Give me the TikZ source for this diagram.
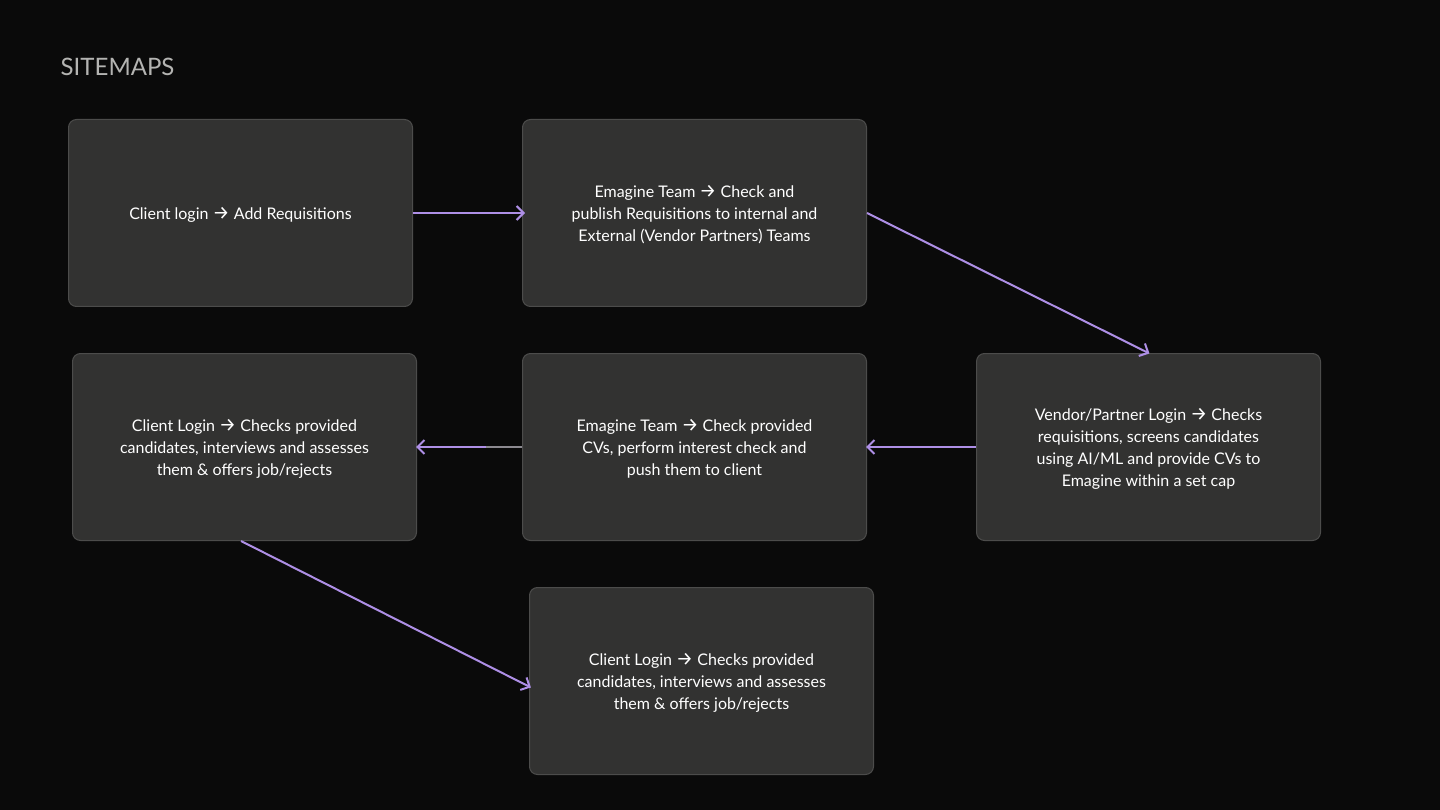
\documentclass[tikz,border=0pt]{standalone}
\usepackage{fontspec}
\setmainfont{Lato}
\newfontfamily\arrowfont{Fira Sans}
\usetikzlibrary{arrows.meta}
\definecolor{pagebg}{HTML}{0A0A0A}
\definecolor{boxfill}{HTML}{323231}
\definecolor{boxline}{HTML}{4C4C4B}
\definecolor{linkcol}{HTML}{AE8FE6}
\definecolor{titlecol}{HTML}{B4B4B2}
\definecolor{seamcol}{HTML}{8C8A90}
\newcommand{\ar}{{\arrowfont\fontsize{19}{22}\selectfont→}}
\newcommand{\cardtext}[1]{\raisebox{-2pt}[\height][\depth]{\begin{tabular}{@{}c@{}}#1\end{tabular}}}
\tikzset{
  card/.style={draw=boxline,line width=1pt,fill=boxfill,rounded corners=8pt,minimum width=344pt,minimum height=187pt,
    text=white,font=\fontsize{16}{22}\selectfont,inner sep=0pt},
  link/.style={draw=linkcol,line width=2pt,shorten >=-1pt,-{Straight Barb[length=7pt,width=14pt,line width=2pt]}}
}
\begin{document}
\begin{tikzpicture}[x=1pt,y=-1pt]
\useasboundingbox[fill=pagebg] (0,0) rectangle (1440,810);
\node[anchor=west,text=titlecol,font=\fontsize{24}{28}\selectfont,inner sep=0pt] (title) at (60.5,67) {SITEMAPS};
\node[card] (a) at (240.5,213) {\cardtext{Client login \ar{} Add Requisitions}};
\node[card] (b) at (694.5,213) {\cardtext{Emagine Team \ar{} Check and\\publish Requisitions to internal and\\External (Vendor Partners) Teams}};
\node[card] (c) at (1148.5,447) {\cardtext{Vendor/Partner Login \ar{} Checks\\requisitions, screens candidates\\using AI/ML and provide CVs to\\Emagine within a set cap}};
\node[card] (d) at (694.5,447) {\cardtext{Emagine Team \ar{} Check provided\\CVs, perform interest check and\\push them to client}};
\node[card] (e) at (244.5,447) {\cardtext{Client Login \ar{} Checks provided\\candidates, interviews and assesses\\them \& offers job/rejects}};
\node[card] (f) at (701.5,681) {\cardtext{Client Login \ar{} Checks provided\\candidates, interviews and assesses\\them \& offers job/rejects}};
\coordinate (estart) at (241,541);
\coordinate (fend) at (530,687);
\coordinate (seam) at (486,447);
\draw[link,shorten >=-3pt] (a.east) -- (b.west);
\draw[link] (b.east) -- (c.north);
\draw[link] (c.west) -- (d.east);
\draw[link] (d.west) -- (e.east);
\draw[draw=seamcol,line width=1.5pt] (d.west) -- (seam);
\draw[link] (estart) -- (fend);
\end{tikzpicture}
\end{document}
